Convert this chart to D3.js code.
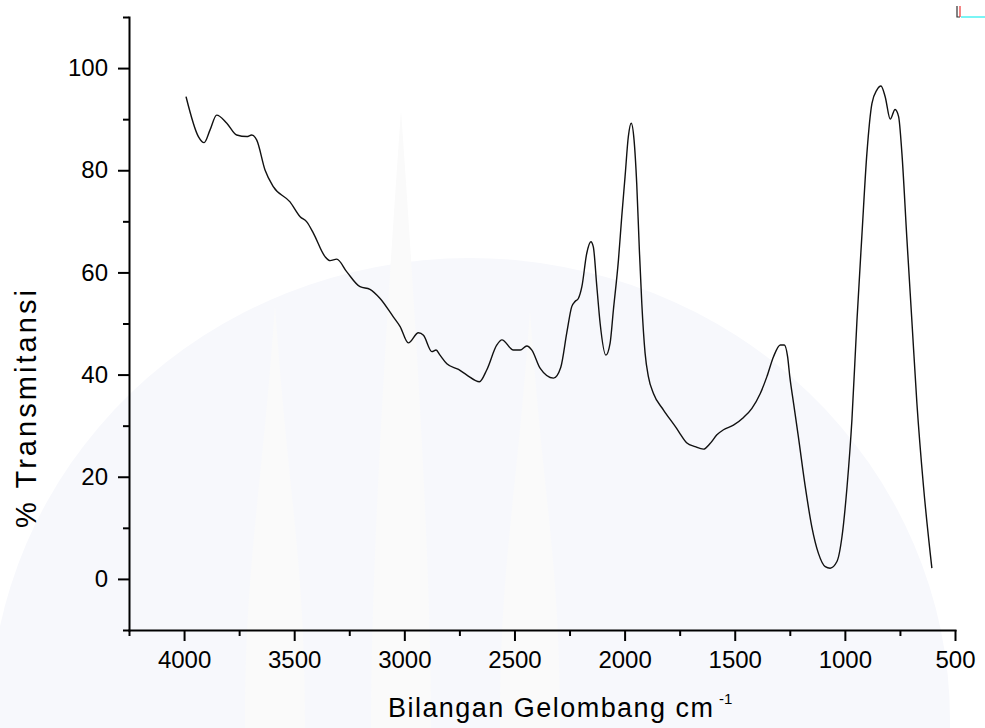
<!DOCTYPE html>
<html>
<head>
<meta charset="utf-8">
<script src="https://cdn.jsdelivr.net/npm/d3@7"></script>
<style>
	body { margin: 0; background: #ffffff; }
	#mySpectrum text { font-family: "Liberation Sans", Arial, sans-serif; fill: #000; }
</style>
</head>
<body>
<div id="mySpectrum"></div>
<script>
// FTIR spectrum (wavenumber in cm-1, % transmittance)
var wavenumber = [
	3991, 3935, 3909, 3882, 3852, 3806, 3761, 3715, 3693, 3670,
	3632, 3595, 3519, 3473, 3443, 3413, 3360, 3337, 3307, 3261,
	3201, 3156, 3110, 3050, 3019, 2982, 2936, 2913, 2875, 2856,
	2838, 2807, 2754, 2716, 2659, 2626, 2580, 2557, 2505, 2474,
	2444, 2421, 2383, 2323, 2290, 2262, 2240, 2225, 2210, 2194,
	2172, 2153, 2142, 2126, 2111, 2085, 2066, 2051, 2028, 2013,
	1998, 1983, 1970, 1957, 1945, 1933, 1922, 1907, 1892, 1869,
	1824, 1763, 1748, 1717, 1680, 1642, 1612, 1581, 1551, 1506,
	1460, 1422, 1384, 1354, 1324, 1293, 1275, 1260, 1250, 1233,
	1211, 1180, 1150, 1120, 1089, 1067, 1036, 1013, 990, 968,
	945, 923, 900, 877, 855, 836, 817, 794, 772, 756,
	741, 719, 696, 673, 643, 605
];
var transmitansi = [
	94.4, 86.6, 85.4, 87.9, 90.8, 89.2, 86.9, 86.6, 86.9, 85.9,
	80.0, 76.8, 73.8, 70.9, 69.9, 67.7, 63.1, 62.3, 62.6, 60.1,
	57.2, 56.7, 54.9, 51.3, 49.4, 46.2, 48.2, 47.7, 44.5, 44.8,
	43.8, 42.1, 41.0, 39.9, 38.6, 40.9, 45.8, 46.8, 44.8, 44.8,
	45.6, 44.8, 41.2, 39.3, 41.4, 48.3, 53.3, 54.3, 54.9, 57.2,
	63.7, 66.0, 65.0, 57.2, 50.0, 43.8, 46.1, 52.6, 62.4, 70.9,
	78.7, 86.6, 89.2, 85.9, 77.4, 64.4, 54.0, 44.2, 39.6, 36.3,
	33.1, 29.4, 28.4, 26.6, 25.9, 25.4, 26.5, 28.2, 29.2, 30.1,
	31.6, 33.4, 36.3, 39.6, 43.5, 45.8, 45.8, 43.5, 39.6, 34.4,
	27.8, 18.1, 10.2, 5.0, 2.4, 2.1, 3.4, 8.3, 18.1, 31.1,
	50.7, 67.0, 83.3, 93.1, 95.7, 96.5, 94.4, 90.0, 91.9, 90.5,
	83.3, 67.0, 50.7, 34.4, 18.1, 2.1
];

var xTicks = [4000, 3500, 3000, 2500, 2000, 1500, 1000, 500];
var xMinorTicks = [4250, 3750, 3250, 2750, 2250, 1750, 1250, 750];
var yTicks = [0, 20, 40, 60, 80, 100];
var yMinorTicks = [-10, 10, 30, 50, 70, 90, 110];

var xTitle = 'Bilangan Gelombang cm';
var yTitle = '% Transmitansi';

function plotWatermark(svg) {
	// faint logo behind the plot
	svg.append('ellipse')
		.attr('cx', 470).attr('cy', 720)
		.attr('rx', 480).attr('ry', 462)
		.attr('fill', '#f7f8fc');
	[[275, 305], [401, 110], [530, 310]].forEach(function (s) {
		var cx = s[0], top = s[1];
		svg.append('path')
			.attr('d', 'M' + cx + ',' + top +
				' C' + (cx + 14) + ',' + (top + 200) + ' ' + (cx + 30) + ',' + 560 + ' ' + (cx + 30) + ',728' +
				' L' + (cx - 30) + ',728' +
				' C' + (cx - 30) + ',560 ' + (cx - 14) + ',' + (top + 200) + ' ' + cx + ',' + top + 'Z')
			.attr('fill', '#fafafa');
	});
}

function plotSpectrum() {
	var width = 985, height = 728;
	var svg = d3.select('#mySpectrum')
		.append('svg')
		.attr('width', width)
		.attr('height', height);

	plotWatermark(svg);

	var x = d3.scaleLinear()
		.domain([4250, 500])
		.range([129, 955]);
	var y = d3.scaleLinear()
		.domain([-10, 110])
		.range([630, 17]);

	var data = wavenumber.map(function (w, i) {
		return { w: w, t: transmitansi[i] };
	});

	// minor ticks first, major axis on top
	svg.append('g')
		.attr('transform', 'translate(0,630)')
		.call(d3.axisBottom(x).tickValues(xMinorTicks).tickSize(6).tickSizeOuter(0).tickFormat(''))
		.call(function (g) { g.select('.domain').remove(); });
	svg.append('g')
		.attr('transform', 'translate(129,0)')
		.call(d3.axisLeft(y).tickValues(yMinorTicks).tickSize(6).tickSizeOuter(0).tickFormat(''))
		.call(function (g) { g.select('.domain').remove(); });

	svg.append('g')
		.attr('class', 'x-axis')
		.attr('transform', 'translate(0,630)')
		.call(d3.axisBottom(x).tickValues(xTicks).tickFormat(d3.format('d'))
			.tickSize(11).tickSizeOuter(0).tickPadding(10));
	svg.append('g')
		.attr('class', 'y-axis')
		.attr('transform', 'translate(129,0)')
		.call(d3.axisLeft(y).tickValues(yTicks).tickFormat(d3.format('d'))
			.tickSize(11).tickSizeOuter(0).tickPadding(10));

	svg.selectAll('.tick line').attr('stroke', '#000').attr('stroke-width', 2);
	svg.selectAll('.domain').attr('stroke', '#000').attr('stroke-width', 2).attr('stroke-linecap', 'square');
	svg.selectAll('.tick text')
		.style('font-size', '24px')
		.attr('fill', '#000');

	// spectrum line
	var line = d3.line()
		.x(function (d) { return x(d.w); })
		.y(function (d) { return y(d.t); })
		.curve(d3.curveMonotoneX);
	svg.append('path')
		.datum(data)
		.attr('d', line)
		.attr('fill', 'none')
		.attr('stroke', '#111')
		.attr('stroke-width', 1.4);

	// axis titles
	svg.append('text')
		.attr('x', 388)
		.attr('y', 717)
		.attr('textLength', 325)
		.attr('lengthAdjust', 'spacing')
		.style('font-size', '27px')
		.text(xTitle);
	svg.append('text')
		.attr('x', 719)
		.attr('y', 704)
		.style('font-size', '15px')
		.text('-1');

	svg.append('text')
		.attr('transform', 'translate(36,409) rotate(-90)')
		.attr('text-anchor', 'middle')
		.attr('textLength', 238)
		.attr('lengthAdjust', 'spacing')
		.style('font-size', '29px')
		.text(yTitle);

	// little legend stub in the top right corner
	var stub = svg.append('g').attr('fill', 'none').attr('stroke-width', 1.2);
	stub.append('path').attr('d', 'M957,6 V17 H960').attr('stroke', '#333');
	stub.append('path').attr('d', 'M960,6 V17').attr('stroke', '#e33');
	stub.append('path').attr('d', 'M961,17 H985').attr('stroke', '#2ee');
}

function init() {
	plotSpectrum();
}

document.addEventListener('DOMContentLoaded', init, false);
</script>
</body>
</html>
